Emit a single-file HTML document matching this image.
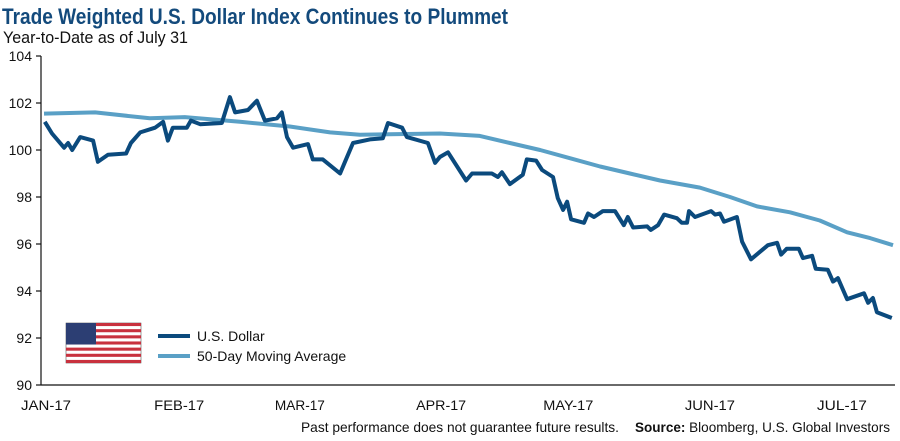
<!DOCTYPE html>
<html><head><meta charset="utf-8"><style>
html,body{margin:0;padding:0;background:#fff;}
svg{display:block;font-family:"Liberation Sans",sans-serif;}
</style></head><body>
<svg id="chart" width="900" height="441" viewBox="0 0 900 441">
<text x="2" y="24" font-size="22" font-weight="bold" fill="#134a7c" textLength="506" lengthAdjust="spacingAndGlyphs">Trade Weighted U.S. Dollar Index Continues to Plummet</text>
<text x="3" y="43" font-size="17" fill="#111" textLength="185" lengthAdjust="spacingAndGlyphs">Year-to-Date as of July 31</text>
<g id="axes"></g>
<g id="series"></g>
<g>
 <g>
  <rect x="66" y="323" width="75" height="40" fill="#fff" stroke="#333" stroke-width="0.5"/>
  <g id="stripes"></g>
  <rect x="66" y="323" width="30" height="21.5" fill="#2c3e73"/>
 </g>
 <line x1="158" y1="336" x2="190" y2="336" stroke="#0b4a7d" stroke-width="4"/>
 <text x="197" y="341" font-size="14" fill="#111">U.S. Dollar</text>
 <line x1="158" y1="356" x2="190" y2="356" stroke="#5aa0c6" stroke-width="4"/>
 <text x="197" y="361" font-size="14" fill="#111">50-Day Moving Average</text>
</g>
<text x="619" y="432" font-size="14" fill="#111" text-anchor="end" textLength="318" lengthAdjust="spacingAndGlyphs">Past performance does not guarantee future results.</text>
<text x="890" y="432" font-size="14" fill="#111" text-anchor="end" textLength="255" lengthAdjust="spacingAndGlyphs"><tspan font-weight="bold">Source:</tspan> Bloomberg, U.S. Global Investors</text>
</svg>
<script>
const dollarDays=[0.2,2,5,6,7,9,12.2,13.4,15.9,20.4,21.6,23.9,27.6,29.6,30.8,32,35.5,36.5,38.8,44.2,46.2,47.5,50.7,52.9,54.9,57.9,59.1,60.4,61.9,65.6,66.8,69.3,73.6,74.8,76.8,81,84.2,85.5,89,90.2,95.4,97.2,98.4,100.4,104.9,106.4,111.3,112.8,113.8,115.8,119,120,122.3,123.8,126.5,127.7,129,130,131,134.2,135.2,136.7,138.9,141.9,144.1,145.1,146.4,149.9,150.8,152.6,154.1,157.3,158.5,159.8,160.3,161.8,165.8,166.8,168,169,172.2,173.5,175.7,179.9,182.2,183.2,184.6,187.6,188.6,190.9,191.8,194.8,196.1,197.3,199.6,203.8,204.8,206,207,210.7];
const dollarValues=[101.2,100.7,100.1,100.3,100.0,100.55,100.4,99.5,99.8,99.85,100.3,100.75,100.95,101.2,100.4,100.95,100.95,101.25,101.1,101.15,102.25,101.6,101.7,102.1,101.25,101.35,101.6,100.55,100.1,100.25,99.6,99.6,99.0,99.5,100.3,100.45,100.5,101.15,100.95,100.55,100.3,99.45,99.7,99.9,98.7,99.0,99.0,98.85,99.05,98.55,98.95,99.6,99.55,99.15,98.85,97.95,97.45,97.8,97.05,96.9,97.3,97.15,97.4,97.4,96.8,97.15,96.7,96.75,96.6,96.8,97.25,97.1,96.9,96.9,97.4,97.15,97.4,97.25,97.3,96.95,97.15,96.1,95.35,95.95,96.05,95.55,95.8,95.8,95.4,95.5,94.95,94.9,94.4,94.55,93.65,93.9,93.5,93.7,93.1,92.85];
const maDays=[0,12.7,26.3,35,48.7,61.1,71.1,78.5,98.4,108.3,115.8,123.3,130.7,138.2,145.6,153.1,163,170.5,177.2,185.4,192.8,199.6,205.3,211];
const maValues=[101.55,101.6,101.35,101.4,101.2,101.0,100.75,100.65,100.7,100.6,100.3,100.0,99.65,99.3,99.0,98.7,98.4,98.0,97.6,97.35,97.0,96.5,96.25,95.95];
const yTicks=[90,92,94,96,98,100,102,104];
const xTickLabels=["JAN-17","FEB-17","MAR-17","APR-17","MAY-17","JUN-17","JUL-17"];
const xTickDays=[0.5,33.6,63.6,98.7,130.3,165.5,198.3];

const NS="http://www.w3.org/2000/svg";
const X0=44,X1=893,Y0=385,Y1=56;
const xScale=d=>X0+(d/211)*(X1-X0);
const yScale=v=>Y0-(v-90)/14*(Y0-Y1);
function mk(tag,attrs,parent){const e=document.createElementNS(NS,tag);for(const k in attrs)e.setAttribute(k,attrs[k]);parent.appendChild(e);return e;}
const axes=document.getElementById('axes');
const yAxis=mk('line',{x1:41,y1:Y1,x2:41,y2:Y0,stroke:'#111','stroke-width':1.2},axes);


const xAxis=mk('line',{x1:41,y1:Y0,x2:895,y2:Y0,stroke:'#111','stroke-width':1.2},axes);


yTicks.forEach(v=>{
 const y=yScale(v);
 const t=mk('line',{x1:36,y1:y,x2:41,y2:y,stroke:'#111','stroke-width':1.2},axes);
 
 
 const l=mk('text',{x:32,y:y+5,'font-size':14,'text-anchor':'end',fill:'#111'},axes);
 l.textContent=v;
 
 
});
xTickLabels.forEach((s,i)=>{
 const l=mk('text',{x:xScale(xTickDays[i]),y:410,'font-size':14,'text-anchor':'middle',fill:'#111',textLength:50,lengthAdjust:'spacingAndGlyphs'},axes);
 l.textContent=s;
 
 
});
const ser=document.getElementById('series');
function path(days,vals){return days.map((d,i)=>(i?'L':'M')+xScale(d).toFixed(1)+','+yScale(vals[i]).toFixed(1)).join('');}
const ma=mk('path',{d:path(maDays,maValues),fill:'none',stroke:'#5aa0c6','stroke-width':4,'stroke-linejoin':'round'},ser);


const dl=mk('path',{d:path(dollarDays,dollarValues),fill:'none',stroke:'#0b4a7d','stroke-width':4,'stroke-linejoin':'round'},ser);


const st=document.getElementById('stripes');
for(let i=0;i<13;i+=2){mk('rect',{x:66,y:323+i*40/13,width:75,height:40/13,fill:'#c8313e'},st);}
</script>
</body></html>
